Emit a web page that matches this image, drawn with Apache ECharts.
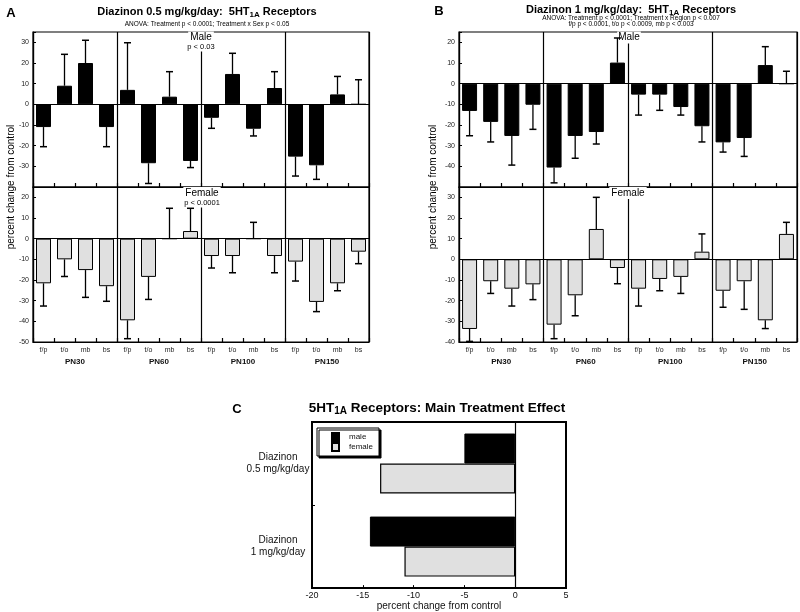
<!DOCTYPE html>
<html>
<head>
<meta charset="utf-8">
<script src="https://cdn.jsdelivr.net/npm/echarts@6/dist/echarts.min.js"></script>
<style>html,body{margin:0;padding:0;background:#fff}#c{width:800px;height:612px}</style>
</head>
<body>
<div id="c"></div>
<script>
// ---- data ----
const ages = ['PN30', 'PN60', 'PN100', 'PN150'];
const regions = ['f/p', 't/o', 'mb', 'bs'];
// Panel A: Diazinon 0.5 mg/kg/day (value, error-bar tip)
const aMale      = [-11, 9, 20, -11,   7, -28.5, 3.7, -27.4,   -6.5, 14.7, -11.8, 7.9,   -25.3, -29.5, 4.8, 0];
const aMaleTip   = [-20.5, 24.2, 31, -20.5,   29.8, -38.3, 15.8, -30.6,   -11.6, 24.7, -15.3, 15.8,   -34.7, -36.3, 13.5, 11.9];
const aFemale    = [-21.6, -10, -15.2, -23,   -39.5, -18.5, 0, 3.7,   -8.4, -8.4, 0, -8.4,   -11.1, -30.6, -21.6, -6.3];
const aFemaleTip = [-32.6, -18.3, -28.4, -30.3,   -48.4, -29.4, 14.7, 14.7,   -14.2, -16.5, 7.9, -16.5,   -20.5, -35.3, -25.2, -12.1];
// Panel B: Diazinon 1 mg/kg/day
const bMale      = [-13.2, -18.5, -25.3, -10.2,   -40.6, -25.3, -23.4, 10.2,   -5.3, -5.3, -11.3, -20.6,   -28.4, -26.3, 9.0, 0];
const bMaleTip   = [-25.2, -28.2, -39.4, -22.1,   -48, -36.1, -29.2, 22.1,   -15.2, -12.9, -15.2, -28.2,   -33.1, -35.2, 17.9, 6.0];
const bFemale    = [-33.7, -10.6, -14.2, -12.1,   -31.6, -17.4, 14.7, -4.2,   -14.2, -9.5, -8.5, 3.7,   -15.2, -10.6, -29.5, 12.3];
const bFemaleTip = [-39.7, -16.5, -22.6, -19.5,   -38.4, -27.3, 30, -11.8,   -22.6, -15.2, -16.5, 12.3,   -23.2, -24.2, -33.5, 17.9];
// Panel C: main treatment effect
const doses   = ['Diazinon\n0.5 mg/kg/day', 'Diazinon\n1 mg/kg/day'];
const cMale   = [-5, -14.3];
const cFemale = [-13.3, -10.9];

// ---- build ----
const keys = [];
ages.forEach(a => regions.forEach(r => keys.push(a + '|' + r)));
const FONT = '"Liberation Sans", Arial, Helvetica, sans-serif';
const BLACK = '#000', GRAY = '#e0e0e0';

function errRender(params, api) {
  const x = api.value(0), v = api.value(1), t = api.value(2);
  const p0 = api.coord([x, v]), p1 = api.coord([x, t]);
  const hw = 3.5;
  return { type: 'group', children: [
    { type: 'line', shape: { x1: p0[0], y1: p0[1], x2: p1[0], y2: p1[1] }, style: { stroke: '#000', lineWidth: 1.3 } },
    { type: 'line', shape: { x1: p1[0] - hw, y1: p1[1], x2: p1[0] + hw, y2: p1[1] }, style: { stroke: '#000', lineWidth: 1.5 } }
  ]};
}
function errData(vals, tips) { return vals.map((v, i) => [i, v, tips[i]]); }

const gridBase = { show: true, borderColor: '#000', borderWidth: 1.2, backgroundColor: 'transparent' };
const grids = [
  Object.assign({ left: 33, top: 32, width: 336, height: 155 }, gridBase),
  Object.assign({ left: 33, top: 187, width: 336, height: 155 }, gridBase),
  Object.assign({ left: 459, top: 32, width: 338, height: 155 }, gridBase),
  Object.assign({ left: 459, top: 187, width: 338, height: 155 }, gridBase),
  Object.assign({ left: 312, top: 422, width: 254, height: 168 }, gridBase, { borderWidth: 2 })
];

function regionAxis(gridIndex, showLabels) {
  return {
    type: 'category', gridIndex, data: keys, position: 'bottom',
    axisLine: { show: true, onZero: false, lineStyle: { color: '#000', width: 1.2 } },
    axisTick: { show: true, inside: true, length: 4, interval: 0, lineStyle: { color: '#000', width: 1.2 } },
    axisLabel: { show: showLabels, interval: 0, fontSize: 7, color: '#222', fontFamily: FONT, margin: 5,
      formatter: v => v.split('|')[1] },
    splitLine: { show: true, interval: (i) => i % 4 === 0, lineStyle: { color: '#000', width: 1.2 } }
  };
}
function ageAxis(gridIndex) {
  return {
    type: 'category', gridIndex, data: ages, position: 'bottom', offset: 11,
    axisLine: { show: false }, axisTick: { show: false }, splitLine: { show: false },
    axisLabel: { interval: 0, fontSize: 8, fontWeight: 'bold', color: '#111', fontFamily: FONT, margin: 5 }
  };
}
function valAxis(gridIndex, min, max, hide) {
  return {
    type: 'value', gridIndex, min, max, interval: 10,
    axisLine: { show: true, onZero: false, lineStyle: { color: '#000', width: 1.2 } },
    axisTick: { show: true, inside: true, length: 3, lineStyle: { color: '#000' } },
    splitLine: { show: false },
    axisLabel: { fontSize: 7, color: '#222', fontFamily: FONT, margin: 4,
      formatter: v => (hide.indexOf(v) >= 0 ? '' : String(v)) }
  };
}

const zeroLine = { silent: true, symbol: ['none', 'none'], label: { show: false },
  lineStyle: { color: '#000', width: 1.2, type: 'solid' }, data: [{ yAxis: 0 }] };

function barSeries(name, xi, yi, data, color) {
  return { name, type: 'bar', xAxisIndex: xi, yAxisIndex: yi, data, barWidth: 15,
    itemStyle: { color, borderColor: '#000', borderWidth: 1 }, markLine: zeroLine, z: 2 };
}
function errSeries(xi, yi, vals, tips) {
  return { type: 'custom', xAxisIndex: xi, yAxisIndex: yi, renderItem: errRender,
    data: errData(vals, tips), z: 3, encode: { x: 0, y: [1, 2] } };
}

function txt(x, y, text, size, opts) {
  return Object.assign({ type: 'text', x, y, z: 1,
    style: Object.assign({ text, fontSize: size, fontFamily: FONT, fill: '#000', align: 'center', verticalAlign: 'middle' }, (opts && opts.style) || {}) },
    (opts && opts.el) || {});
}
const subRich = (fs) => ({ s: { fontSize: fs, fontWeight: 'bold', fontFamily: FONT, padding: [Math.round(fs * 0.7), 0, 0, 0] } });

const option = {
  animation: false,
  backgroundColor: '#fff',
  grid: grids,
  xAxis: [
    regionAxis(0, false), regionAxis(1, true), ageAxis(1),
    regionAxis(2, false), regionAxis(3, true), ageAxis(3),
    { type: 'value', gridIndex: 4, min: -20, max: 5, interval: 5,
      axisLine: { show: true, onZero: false, lineStyle: { color: '#000', width: 2 } },
      axisTick: { show: true, inside: true, length: 3, lineStyle: { color: '#000' } },
      splitLine: { show: false },
      axisLabel: { fontSize: 9, color: '#111', fontFamily: FONT, margin: 3 },
      name: 'percent change from control', nameLocation: 'middle', nameGap: 12,
      nameTextStyle: { fontSize: 10, color: '#111', fontFamily: FONT } }
  ],
  yAxis: [
    valAxis(0, -40, 35, [-40, 35]),
    valAxis(1, -50, 25, [25]),
    valAxis(2, -50, 25, [-50, 25]),
    valAxis(3, -40, 35, [35]),
    { type: 'category', gridIndex: 4, data: doses, inverse: true,
      axisLine: { show: true, onZero: false, lineStyle: { color: '#000', width: 2 } },
      axisTick: { show: true, inside: true, length: 3, lineStyle: { color: '#000' } },
      axisLabel: { fontSize: 10, color: '#111', fontFamily: FONT, align: 'center', margin: 34, lineHeight: 12,
        padding: [6, 0, 0, 0] } }
  ],
  legend: {
    data: ['male', 'female'], orient: 'vertical', left: 317, top: 428,
    itemWidth: 7, itemHeight: 8, itemGap: 0, icon: 'rect',
    padding: [4, 6, 4, 14], borderColor: '#000', borderWidth: 1, backgroundColor: '#fff',
    shadowColor: '#000', shadowOffsetX: 2, shadowOffsetY: 2, shadowBlur: 0.01,
    textStyle: { fontSize: 8, color: '#111', fontFamily: FONT, padding: [0, 0, 0, 5] },
    selectedMode: false
  },
  series: [
    barSeries('A male', 0, 0, aMale, BLACK), errSeries(0, 0, aMale, aMaleTip),
    barSeries('A female', 1, 1, aFemale, GRAY), errSeries(1, 1, aFemale, aFemaleTip),
    barSeries('B male', 3, 2, bMale, BLACK), errSeries(3, 2, bMale, bMaleTip),
    barSeries('B female', 4, 3, bFemale, GRAY), errSeries(4, 3, bFemale, bFemaleTip),
    { name: 'male', type: 'bar', xAxisIndex: 6, yAxisIndex: 4, data: cMale, barWidth: 30, barGap: '0%',
      itemStyle: { color: BLACK, borderColor: '#000', borderWidth: 1 },
      markLine: { silent: true, symbol: ['none', 'none'], label: { show: false },
        lineStyle: { color: '#000', width: 1.2, type: 'solid' }, data: [{ xAxis: 0 }] } },
    { name: 'female', type: 'bar', xAxisIndex: 6, yAxisIndex: 4, data: cFemale, barWidth: 30, barGap: '0%',
      itemStyle: { color: GRAY, borderColor: '#000', borderWidth: 1.2 } }
  ],
  graphic: [
    txt(11, 13, 'A', 13, { style: { fontWeight: 'bold' } }),
    txt(207, 11.5, 'Diazinon 0.5 mg/kg/day:  5HT{s|1A} Receptors', 11, { style: { fontWeight: 'bold', rich: subRich(8) } }),
    txt(207, 24, 'ANOVA: Treatment p < 0.0001; Treatment x Sex p < 0.05', 6.5),
    txt(201, 37.5, 'Male', 10, { style: { backgroundColor: '#fff', padding: [1, 2] } }),
    txt(201, 46.5, 'p < 0.03', 7.5, { style: { backgroundColor: '#fff', padding: [1, 2] } }),
    txt(202, 193, 'Female', 10, { style: { backgroundColor: '#fff', padding: [1, 2] } }),
    txt(202, 202.5, 'p < 0.0001', 7.5, { style: { backgroundColor: '#fff', padding: [1, 2] } }),
    txt(11, 187, 'percent change from control', 10, { el: { rotation: Math.PI / 2 } }),

    txt(439, 11, 'B', 13, { style: { fontWeight: 'bold' } }),
    txt(631, 10, 'Diazinon 1 mg/kg/day:  5HT{s|1A} Receptors', 11, { style: { fontWeight: 'bold', rich: subRich(8) } }),
    txt(631, 18.5, 'ANOVA: Treatment p < 0.0001; Treatment x Region p < 0.007', 6.5),
    txt(631, 24, 'f/p p < 0.0001, t/o p < 0.0009, mb p < 0.003', 6.5),
    txt(629, 37.5, 'Male', 10, { style: { backgroundColor: '#fff', padding: [1, 1] } }),
    txt(628, 193, 'Female', 10, { style: { backgroundColor: '#fff', padding: [1, 2] } }),
    txt(433, 187, 'percent change from control', 10, { el: { rotation: Math.PI / 2 } }),

    txt(237, 409, 'C', 13, { style: { fontWeight: 'bold' } }),
    txt(437, 408, '5HT{s|1A} Receptors: Main Treatment Effect', 13.5, { style: { fontWeight: 'bold', rich: subRich(10) } })
  ]
};

const chart = echarts.init(document.getElementById('c'), null, { renderer: 'canvas' });
chart.setOption(option);
</script>
</body>
</html>
